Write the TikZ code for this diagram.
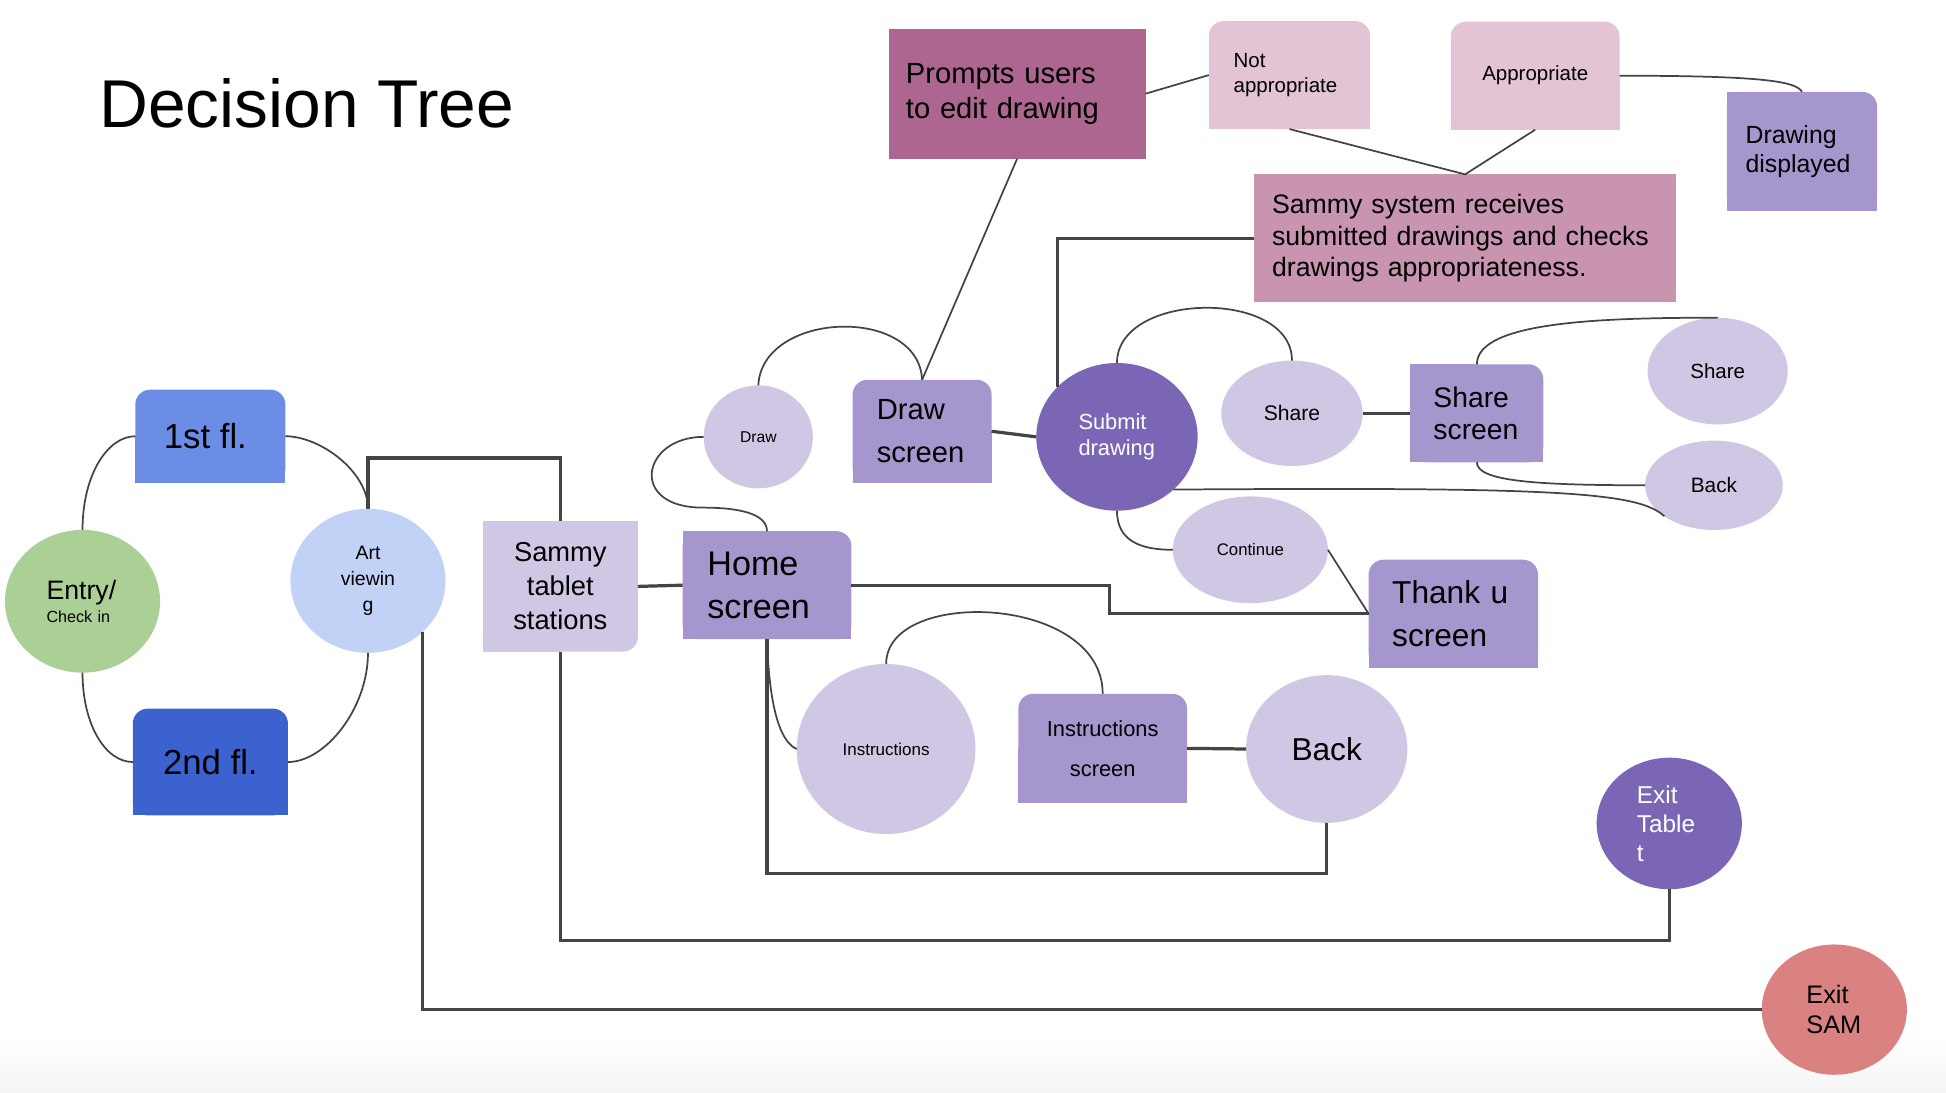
\documentclass[tikz,border=0pt]{standalone}
\usepackage{fontspec}
\setmainfont{Liberation Sans}
\usetikzlibrary{shapes.geometric,backgrounds}

\definecolor{floorone}{HTML}{6B8DE6}
\definecolor{floortwo}{HTML}{3C62D0}
\definecolor{entrygreen}{HTML}{ABD096}
\definecolor{artblue}{HTML}{C2D1F6}
\definecolor{lilac}{HTML}{D0C7E5}
\definecolor{screenpurple}{HTML}{A597CE}
\definecolor{darkpurple}{HTML}{7B66B5}
\definecolor{promptplum}{HTML}{AC6690}
\definecolor{palepink}{HTML}{E2C4D4}
\definecolor{checkpink}{HTML}{C894B0}
\definecolor{exitred}{HTML}{DA8282}
\definecolor{linegray}{HTML}{444444}

\tikzset{every picture/.style={line width=1.4pt},
  screenbox/.style={rectangle, inner ysep=0pt, outer sep=0pt, align=left},
  bubble/.style={ellipse, inner sep=0pt, outer sep=0pt, align=center},
  link/.style={draw=linegray, line width=1.4pt},
  elbow/.style={draw=linegray, line width=2.6pt}}

\begin{document}
\begin{tikzpicture}[x=1pt,y=1pt,yscale=-1,xscale=1]
	\useasboundingbox (0,0) rectangle (1568,880);
	% faint band at the bottom
	\shade [top color=white, bottom color=black!4] (0,835) rectangle (1568,880);

	% Text Node
	\node [anchor=base west, font=\fontsize{54.5}{60}\selectfont] (title) at (76,103) {Decision Tree};

	%Shape: Rectangle [1st fl.]
	\node [screenbox, align=center, fill=floorone, rounded corners=12pt, minimum width=121pt, minimum height=75pt, font=\fontsize{28}{34}\selectfont] (floorone) at (169.5,351.5) {1st fl.\hspace*{8pt}};
	%Shape: Rectangle [2nd fl.]
	\node [screenbox, align=center, fill=floortwo, rounded corners=12pt, minimum width=125pt, minimum height=86pt, font=\fontsize{28}{34}\selectfont] (floortwo) at (169.5,614) {2nd fl.};
	%Shape: Ellipse [entry]
	\node [bubble, align=left, fill=entrygreen, minimum width=125pt, minimum height=115pt, text width=58pt, font=\fontsize{13}{18}\selectfont] (entry) at (66.5,484.5) {{\fontsize{21.5}{18}\selectfont Entry/}\\Check in};
	%Shape: Ellipse [art]
	\node [bubble, fill=artblue, minimum width=125pt, minimum height=116pt, font=\fontsize{15.7}{21}\selectfont] (art) at (296.5,468) {Art\\viewin\\g};
	%Shape: Rectangle [tablet]
	\node [screenbox, align=center, fill=lilac, rounded corners=12pt, minimum width=125pt, minimum height=105pt, font=\fontsize{22}{27.5}\selectfont] (tablet) at (451.5,472.5) {Sammy\\tablet\\stations};
	%Shape: Rectangle [home]
	\node [screenbox, fill=screenpurple, rounded corners=12pt, inner xsep=20pt, text width=96pt, minimum height=87pt, font=\fontsize{27.5}{35}\selectfont] (home) at (618,471.5) {Home\\screen};

	%Shape: Ellipse [draw]
	\node [bubble, fill=lilac, minimum width=88pt, minimum height=83pt, font=\fontsize{12.6}{15}\selectfont] (draw) at (611,352) {Draw};
	%Shape: Rectangle [draw screen]
	\node [screenbox, fill=screenpurple, rounded corners=12pt, inner xsep=19.5pt, text width=73pt, minimum height=83pt, font=\fontsize{23.5}{34.5}\selectfont] (drawscr) at (743,347.5) {Draw\\screen};
	%Shape: Rectangle [prompts]
	\node [screenbox, fill=promptplum, inner xsep=14pt, text width=179pt, minimum height=105pt, font=\fontsize{23.5}{28.5}\selectfont] (prompts) at (819.5,75.5) {Prompts users\\to edit drawing};
	%Shape: Rectangle [not appropriate]
	\node [screenbox, fill=palepink, rounded corners=12pt, inner xsep=20pt, text width=90pt, minimum height=87pt, font=\fontsize{16.5}{20}\selectfont] (notapp) at (1039,60.5) {Not\\appropriate};
	%Shape: Rectangle [appropriate]
	\node [screenbox, align=center, fill=palepink, rounded corners=12pt, minimum width=136pt, minimum height=87pt, font=\fontsize{16.5}{20}\selectfont] (approp) at (1237,61) {Appropriate};
	%Shape: Rectangle [drawing displayed]
	\node [screenbox, fill=screenpurple, rounded corners=12pt, inner xsep=15pt, text width=91pt, minimum height=96pt, font=\fontsize{20}{23.5}\selectfont] (drawdisp) at (1452,122) {Drawing\\displayed};
	%Shape: Rectangle [system check]
	\node [screenbox, fill=checkpink, inner xsep=14.5pt, text width=311pt, minimum height=103pt, font=\fontsize{21.5}{25.5}\selectfont] (syscheck) at (1180.5,192) {Sammy system receives\\submitted drawings and checks\\drawings appropriateness.};

	%Shape: Ellipse [submit]
	\node [bubble, align=left, fill=darkpurple, text=white, minimum width=130pt, minimum height=119pt, text width=62pt, font=\fontsize{17.6}{20.5}\selectfont] (submit) at (900,352) {Submit\\drawing};
	%Shape: Ellipse [share]
	\node [bubble, fill=lilac, minimum width=114pt, minimum height=85pt, font=\fontsize{17}{20}\selectfont] (shareone) at (1041,333) {Share};
	%Shape: Rectangle [share screen]
	\node [screenbox, fill=screenpurple, rounded corners=12pt, inner xsep=18.5pt, text width=70pt, minimum height=79pt, font=\fontsize{22.8}{26}\selectfont] (sharescr) at (1190,333) {Share\\screen};
	%Shape: Ellipse [share again]
	\node [bubble, fill=lilac, minimum width=113pt, minimum height=86pt, font=\fontsize{16.5}{20}\selectfont] (sharetwo) at (1384,299) {Share};
	%Shape: Ellipse [back from share]
	\node [bubble, fill=lilac, minimum width=111pt, minimum height=72pt, font=\fontsize{16.8}{20}\selectfont] (backone) at (1381,391) {Back};
	%Shape: Ellipse [continue]
	\node [bubble, fill=lilac, minimum width=125pt, minimum height=86pt, font=\fontsize{13.5}{16}\selectfont] (cont) at (1007.5,443) {Continue};
	%Shape: Rectangle [thank u]
	\node [screenbox, fill=screenpurple, rounded corners=12pt, inner xsep=19pt, text width=98.5pt, minimum height=87pt, font=\fontsize{25.5}{34.5}\selectfont] (thanks) at (1171,494.5) {Thank u\\screen};

	%Shape: Ellipse [instructions]
	\node [bubble, fill=lilac, minimum width=144pt, minimum height=137pt, font=\fontsize{13.7}{16}\selectfont] (instr) at (714,603.5) {Instructions};
	%Shape: Rectangle [instructions screen]
	\node [screenbox, align=center, fill=screenpurple, rounded corners=12pt, minimum width=136pt, minimum height=88pt, font=\fontsize{17.6}{32}\selectfont] (instrscr) at (888.5,603) {Instructions\\screen};
	%Shape: Ellipse [back]
	\node [bubble, fill=lilac, minimum width=130pt, minimum height=119pt, font=\fontsize{25.5}{30}\selectfont] (backtwo) at (1069,603.5) {Back};
	%Shape: Ellipse [exit tablet]
	\node [bubble, align=left, fill=darkpurple, text=white, minimum width=117pt, minimum height=106pt, text width=52pt, font=\fontsize{19.6}{23.5}\selectfont] (exittab) at (1345,663.5) {Exit\\Table\\t};
	%Shape: Ellipse [exit SAM]
	\node [bubble, align=left, fill=exitred, minimum width=117pt, minimum height=105pt, text width=45pt, font=\fontsize{20.4}{24}\selectfont] (exitsam) at (1478,813.5) {Exit\\SAM};

	% square off the corners that are not rounded
	\begin{scope}[on background layer]
	\fill [floorone] (floorone.west) rectangle (floorone.south east);
	\fill [floortwo] (floortwo.west) rectangle (floortwo.south east);
	\fill [lilac] (tablet.north west) rectangle (tablet.east);
	\fill [lilac] (tablet.north west) rectangle (tablet.south);
	\fill [screenpurple] (home.west) rectangle (home.south east);
	\fill [screenpurple] (home.north west) rectangle (home.south);
	\fill [screenpurple] (drawscr.west) rectangle (drawscr.south east);
	\fill [palepink] (notapp.west) rectangle (notapp.south east);
	\fill [palepink] (approp.west) rectangle (approp.south east);
	\fill [screenpurple] (drawdisp.west) rectangle (drawdisp.south east);
	\fill [screenpurple] (drawdisp.north west) rectangle (drawdisp.south);
	\fill [screenpurple] (sharescr.west) rectangle (sharescr.south east);
	\fill [screenpurple] (sharescr.north west) rectangle (sharescr.south);
	\fill [screenpurple] (thanks.west) rectangle (thanks.south east);
	\fill [screenpurple] (instrscr.west) rectangle (instrscr.south east);
	\end{scope}

	%Curve Lines
	\draw [link] (entry.north) .. controls +(0,-45) and +(-22,0) .. (floorone.west);
	\draw [link] (entry.south) .. controls +(0,42) and +(-22,0) .. (floortwo.west);
	\draw [link] (floorone.east) .. controls +(28,0) and +(0,-30) .. (art.north);
	\draw [link] (art.south) .. controls +(0,45) and +(30,0) .. (floortwo.east);
	%Straight Lines
	\draw [elbow] (art.north) -- ++(0,-41) -| (tablet.north);
	\draw [elbow] (art.-43) |- (exitsam.west);
	\draw [elbow] (tablet.south) -- ++(0,233) -| (exittab.south);
	\draw [elbow] (tablet.east) -- (home.west);
	\draw [elbow] (home.east) -- ++(208,0) |- (thanks.west);
	\draw [elbow] (home.south) -- ++(0,189) -| (backtwo.south);
	%Curve Lines
	\draw [link] (home.south) .. controls +(2,60) and +(-12,-5) .. (instr.west);
	\draw [link] (home.north) .. controls +(0,-14) and +(30,0) .. (566,409) .. controls +(-60,0) and +(-50,0) .. (draw.west);
	\draw [link] (draw.north) .. controls +(3,-60) and +(-3,-60) .. (drawscr.north);
	\draw [link] (prompts.south) -- (drawscr.north);
	\draw [elbow] (drawscr.east) -- (submit.west);
	\draw [link] (prompts.east) -- (notapp.west);
	\draw [link] (notapp.south) -- (syscheck.north) -- (approp.south);
	\draw [link] (approp.east) .. controls +(120,0) and +(-5,-8) .. (drawdisp.north);
	\draw [elbow] (syscheck.west) -| (submit.140);
	\draw [link] (submit.north) .. controls +(0,-58) and +(0,-58) .. (shareone.north);
	\draw [elbow] (shareone.east) -- (sharescr.west);
	\draw [link] (sharescr.north) .. controls +(0,-35) and +(-90,0) .. (sharetwo.north);
	\draw [link] (sharescr.south) .. controls +(0,15) and +(-90,0) .. (backone.west);
	\draw [link] (submit.-43) .. controls +(304,-2) and +(-21,-20) .. (backone.-148);
	\draw [link] (submit.south) .. controls +(0,25) and +(-25,0) .. (cont.west);
	\draw [link] (cont.east) -- (thanks.west);
	\draw [link] (instr.north) .. controls +(0,-62) and +(0,-80) .. (instrscr.north);
	\draw [elbow] (instrscr.east) -- (backtwo.west);

\end{tikzpicture}
\end{document}
